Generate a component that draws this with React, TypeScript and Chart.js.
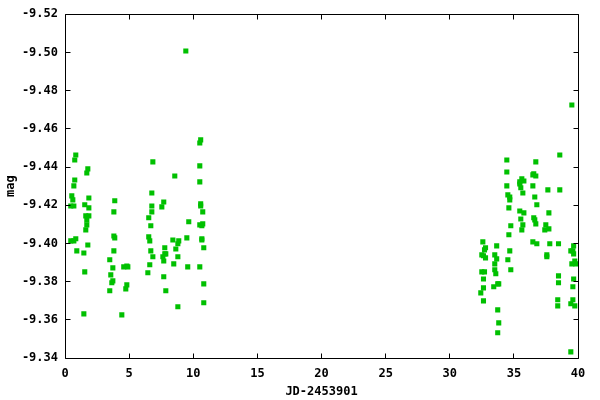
import React, { useEffect, useRef } from "react";
import { Chart, registerables } from "chart.js";

Chart.register(...registerables);

const xTitle = "JD-2453901";
const yTitle = "mag";
const xMin = 0;
const xMax = 40;
const xStep = 5;
const yMin = -9.52;
const yMax = -9.34;
const yStep = 0.02;

const jd: number[] = [
  0.84, 0.76, 1.78, 1.70, 0.76, 0.69, 0.53, 0.61, 1.86, 0.45, 0.69, 1.54, 1.86, 1.62, 1.86, 1.70, 1.70, 1.62, 0.45, 0.69, 0.84, 1.78, 0.92, 1.47, 1.54, 1.47,
  3.88, 3.81, 3.81, 3.88, 3.81, 3.49, 3.73, 3.57, 3.73, 3.65, 3.49, 4.58, 4.82, 4.90, 4.82, 4.74, 4.43,
  6.85, 6.77, 6.77, 6.77, 6.53, 6.69, 6.53, 6.61, 6.69, 6.85, 6.61, 6.46,
  7.70, 7.55, 7.63, 7.78, 7.86, 7.78, 7.70, 7.70, 7.86,
  8.56, 8.41, 8.87, 8.80, 8.64, 8.80, 8.48, 8.80,
  9.42, 9.65, 9.50, 9.57,
  10.58, 10.51, 10.51, 10.51, 10.58, 10.58, 10.74, 10.51, 10.67, 10.74, 10.67, 10.67, 10.82, 10.51, 10.82, 10.82,
  32.58, 32.79, 32.71, 32.50, 32.63, 32.79, 32.50, 32.71, 32.63, 32.63, 32.42, 32.63,
  33.66, 33.51, 33.66, 33.51, 33.51, 33.59, 33.82, 33.43, 33.74, 33.74, 33.82, 33.74,
  34.45, 34.45, 34.45, 34.53, 34.68, 34.68, 34.61, 34.76, 34.61, 34.68, 34.53, 34.76,
  35.62, 35.78, 35.46, 35.46, 35.54, 35.70, 35.46, 35.78, 35.54, 35.70, 35.62,
  36.71, 36.55, 36.48, 36.71, 36.48, 36.63, 36.79, 36.55, 36.63, 36.71, 36.48, 36.79,
  37.65, 37.73, 37.49, 37.41, 37.73, 37.80, 37.57, 37.57,
  38.58, 38.58, 38.48, 38.48, 38.48, 38.42, 38.42,
  39.52, 39.66, 39.60, 39.66, 39.44, 39.75, 39.52, 39.83, 39.66, 39.60, 39.60, 39.44, 39.75, 39.44,
];

const mag: number[] = [
  -9.4463, -9.4437, -9.4390, -9.4369, -9.4332, -9.4301, -9.4249, -9.4228, -9.4238, -9.4196, -9.4196, -9.4202, -9.4186, -9.4144, -9.4144, -9.4123, -9.4097, -9.4071, -9.4013, -9.4013, -9.4024, -9.3992, -9.3961, -9.3950, -9.3851, -9.3631,
  -9.4223, -9.4165, -9.4039, -9.4029, -9.3961, -9.3914, -9.3872, -9.3835, -9.3804, -9.3794, -9.3752, -9.3877, -9.3882, -9.3877, -9.3783, -9.3762, -9.3626,
  -9.4427, -9.4264, -9.4196, -9.4165, -9.4134, -9.4092, -9.4034, -9.4013, -9.3961, -9.3930, -9.3888, -9.3846,
  -9.4217, -9.4191, -9.3930, -9.3945, -9.3945, -9.3977, -9.3908, -9.3825, -9.3752,
  -9.4353, -9.4018, -9.4013, -9.3998, -9.3971, -9.3930, -9.3893, -9.3668,
  -9.5007, -9.4113, -9.4029, -9.3877,
  -9.4542, -9.4526, -9.4406, -9.4322, -9.4207, -9.4196, -9.4165, -9.4097, -9.4092, -9.4102, -9.4024, -9.4018, -9.3977, -9.3877, -9.3788, -9.3689,
  -9.4008, -9.3977, -9.3966, -9.3940, -9.3935, -9.3924, -9.3851, -9.3851, -9.3814, -9.3767, -9.3741, -9.3699,
  -9.3987, -9.3940, -9.3919, -9.3893, -9.3862, -9.3841, -9.3788, -9.3773, -9.3788, -9.3652, -9.3584, -9.3532,
  -9.4437, -9.4374, -9.4301, -9.4254, -9.4243, -9.4228, -9.4186, -9.4092, -9.4045, -9.3961, -9.3914, -9.3862,
  -9.4338, -9.4327, -9.4322, -9.4311, -9.4291, -9.4264, -9.4170, -9.4160, -9.4128, -9.4097, -9.4071,
  -9.4427, -9.4364, -9.4359, -9.4353, -9.4301, -9.4243, -9.4202, -9.4134, -9.4123, -9.4102, -9.4008, -9.3998,
  -9.4280, -9.4160, -9.4097, -9.4071, -9.4076, -9.3998, -9.3940, -9.3930,
  -9.4463, -9.4280, -9.3998, -9.3830, -9.3794, -9.3705, -9.3673,
  -9.4725, -9.3987, -9.3961, -9.3945, -9.3961, -9.3908, -9.3893, -9.3893, -9.3814, -9.3773, -9.3705, -9.3684, -9.3673, -9.3432,
];

const FONT = "'DejaVu Sans Mono', monospace";

const framePlugin = {
  id: "gnuFrame",
  afterDatasetsDraw(chart: any) {
    const { ctx, chartArea } = chart;
    const l = Math.floor(chartArea.left) + 0.5;
    const r = Math.floor(chartArea.right) + 0.5;
    const t = Math.floor(chartArea.top) + 0.5;
    const b = Math.floor(chartArea.bottom) + 0.5;
    const len = 5;
    ctx.save();
    ctx.strokeStyle = "#000";
    ctx.lineWidth = 1;
    ctx.beginPath();
    ctx.rect(l, t, r - l, b - t);
    const xs = chart.scales.x;
    xs.ticks.forEach((tk: any) => {
      const px = Math.floor(xs.getPixelForValue(tk.value)) + 0.5;
      ctx.moveTo(px, b);
      ctx.lineTo(px, b - len);
      ctx.moveTo(px, t);
      ctx.lineTo(px, t + len);
    });
    const ys = chart.scales.y;
    ys.ticks.forEach((tk: any) => {
      const py = Math.floor(ys.getPixelForValue(tk.value)) + 0.5;
      ctx.moveTo(l, py);
      ctx.lineTo(l + len, py);
      ctx.moveTo(r, py);
      ctx.lineTo(r - len, py);
    });
    ctx.stroke();
    ctx.restore();
  },
};

export default function App() {
  const ref = useRef<HTMLCanvasElement>(null);
  useEffect(() => {
    if (!ref.current) return;
    const points = jd.map((x, i) => ({ x, y: mag[i] }));
    const chart = new Chart(ref.current, {
      type: "scatter",
      data: {
        datasets: [
          {
            data: points,
            pointStyle: "rect",
            pointRadius: 3.6,
            pointHoverRadius: 3.6,
            pointBorderWidth: 0,
            backgroundColor: "#00c000",
            borderColor: "#00c000",
          },
        ],
      },
      options: {
        animation: false,
        responsive: false,
        layout: { padding: { left: 0, top: 14, right: 22, bottom: 0 } },
        plugins: { legend: { display: false }, tooltip: { enabled: false } },
        scales: {
          x: {
            type: "linear",
            min: xMin,
            max: xMax,
            grid: { display: false, drawTicks: false },
            border: { display: false },
            ticks: {
              stepSize: xStep,
              padding: 9,
              color: "#000",
              font: { family: FONT, size: 12, weight: "bold" },
              maxRotation: 0,
            },
            title: {
              display: true,
              text: xTitle,
              color: "#000",
              font: { family: FONT, size: 12, weight: "bold" },
              padding: { top: 4, bottom: 1 },
            },
            afterFit: (s: any) => {
              s.height = 42;
            },
          },
          y: {
            type: "linear",
            min: yMin,
            max: yMax,
            reverse: true,
            grid: { display: false, drawTicks: false },
            border: { display: false },
            ticks: {
              stepSize: yStep,
              padding: 7,
              color: "#000",
              font: { family: FONT, size: 12, weight: "bold" },
              callback: (v: any) => Number(v).toFixed(2),
            },
            title: {
              display: true,
              text: yTitle,
              color: "#000",
              font: { family: FONT, size: 12, weight: "bold" },
              padding: { top: 4, bottom: 4 },
            },
            afterFit: (s: any) => {
              s.width = 65;
            },
          },
        },
      },
      plugins: [framePlugin],
    });
    return () => chart.destroy();
  }, []);
  return (
    <div style={{ position: "fixed", left: 0, top: 0, width: 600, height: 400, background: "#fff" }}>
      <canvas ref={ref} width={600} height={400} style={{ display: "block" }} />
    </div>
  );
}
